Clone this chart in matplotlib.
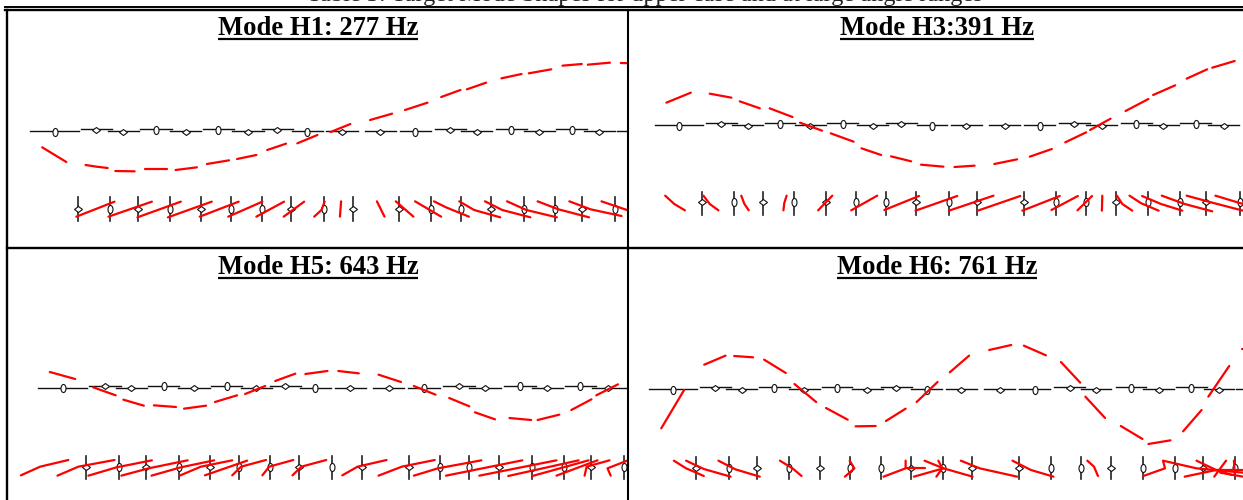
import matplotlib
matplotlib.use('Agg')
import matplotlib.pyplot as plt
from matplotlib.markers import MarkerStyle
from matplotlib.transforms import Affine2D

HEADER = 'Table 3: Target Mode Shapes for upper case and at large angle ranges'
TITLES = ['Mode H1: 277 Hz', 'Mode H3:391 Hz', 'Mode H5: 643 Hz', 'Mode H6: 761 Hz']

TOP_SHAPES = list('oddododdoddoddodod') + ['o']
LOW_SHAPES = list('dododoododdoodoodo')

h1_curve = [[(105, 442), (165, 486)], [(213, 495), (240, 500), (268, 504)], [(287, 513), (335, 514)],
            [(362, 508), (416, 508)], [(437, 510), (490, 502)], [(515, 492), (570, 481)],
            [(590, 477), (638, 465)], [(665, 450), (712, 431)], [(740, 430), (790, 405)],
            [(823, 396), (872, 372)], [(921, 360), (976, 341)], [(1008, 330), (1064, 308)],
            [(1098, 291), (1146, 270)], [(1162, 268), (1210, 248)], [(1248, 235), (1298, 222)],
            [(1316, 220), (1372, 208)], [(1400, 197), (1448, 192)], [(1463, 194), (1518, 188)],
            [(1545, 189), (1575, 190)]]
h1_top_x = [136, 240, 307, 388, 462, 543, 617, 690, 765, 851, 947, 1034, 1121, 1186, 1273, 1342, 1423, 1492, 1575]
h1_top_y = [396, 389, 396, 389, 396, 389, 396, 389, 396, 396, 396, 396, 389, 396, 389, 396, 389, 396, 396]
h1_low_x = [194, 275, 343, 424, 501, 576, 651, 725, 807, 879, 993, 1073, 1148, 1222, 1303, 1381, 1449, 1531]
h1_low_y = (590, 626, 662)
h1_rods = [[(190, 650), (285, 605)], [(270, 650), (378, 605)], [(342, 652), (450, 605)], [(418, 652), (527, 605)],
           [(497, 650), (594, 605)], [(568, 650), (653, 605)], [(638, 650), (707, 605)], [(706, 650), (757, 605)],
           [(782, 650), (800, 630), (808, 605)], [(846, 650), (849, 604)], [(957, 650), (938, 604)],
           [(1029, 650), (985, 604)], [(1098, 650), (1033, 604)], [(1167, 650), (1110, 622), (1080, 604)],
           [(1245, 652), (1180, 630), (1143, 604)], [(1320, 652), (1250, 630), (1207, 604)],
           [(1386, 652), (1310, 630), (1262, 604)], [(1466, 652), (1390, 628), (1338, 604)],
           [(1547, 648), (1470, 628), (1417, 604)], [(1575, 636), (1497, 604)]]

h3_curve = [[(105, 308), (167, 278)], [(215, 281), (270, 293)], [(291, 304), (342, 325)], [(367, 325), (425, 351)],
            [(444, 368), (500, 392)], [(522, 400), (580, 425)], [(600, 445), (650, 465)], [(675, 469), (726, 484)],
            [(751, 494), (808, 500)], [(836, 501), (887, 497)], [(937, 492), (995, 478)], [(1027, 470), (1083, 447)],
            [(1117, 427), (1170, 397)], [(1180, 390), (1232, 356)], [(1270, 333), (1328, 297)],
            [(1340, 285), (1396, 256)], [(1425, 236), (1477, 208)], [(1490, 203), (1547, 183)]]
h3_top_x = [137, 244, 311, 393, 470, 552, 628, 701, 779, 866, 963, 1052, 1140, 1209, 1297, 1366, 1448, 1519]
h3_top_y = [378, 372, 378, 372, 378, 372, 378, 372, 378, 378, 378, 378, 372, 378, 372, 378, 372, 378]
h3_low_x = [196, 277, 349, 430, 511, 586, 662, 738, 821, 894, 1013, 1093, 1170, 1245, 1328, 1407, 1475, 1560]
h3_low_y = (575, 607, 645)
h3_rods = [[(102, 587), (125, 612), (152, 631)], [(199, 587), (215, 612), (237, 631)],
           [(295, 587), (303, 612), (314, 631)], [(410, 587), (404, 610), (402, 631)], [(526, 587), (490, 631)],
           [(640, 587), (574, 631)], [(746, 588), (658, 630)], [(843, 588), (737, 632)], [(935, 587), (822, 632)],
           [(1003, 588), (895, 632)], [(1103, 588), (1008, 632)], [(1149, 588), (1082, 630)],
           [(1185, 588), (1148, 631)], [(1211, 587), (1210, 632)], [(1248, 587), (1262, 612), (1287, 632)],
           [(1280, 587), (1310, 610), (1354, 632)], [(1312, 588), (1360, 612), (1414, 632)],
           [(1362, 587), (1420, 612), (1490, 634)], [(1425, 587), (1490, 608), (1568, 632)],
           [(1498, 587), (1568, 612)]]

h5_curve = [[(124, 366), (187, 387)], [(232, 412), (288, 436)], [(307, 449), (358, 467)], [(383, 466), (438, 471)],
            [(458, 476), (513, 467)], [(535, 456), (590, 436)], [(610, 432), (660, 408)], [(685, 393), (735, 371)],
            [(760, 372), (815, 363)], [(842, 363), (893, 370)], [(942, 374), (998, 396)], [(1030, 408), (1084, 434)],
            [(1118, 444), (1168, 469)], [(1182, 487), (1232, 508)], [(1268, 504), (1322, 510)],
            [(1338, 510), (1392, 494)], [(1422, 480), (1472, 448)], [(1484, 436), (1538, 403)]]
h5_top_x = [156, 261, 327, 407, 483, 564, 638, 710, 785, 872, 967, 1055, 1142, 1207, 1294, 1362, 1444, 1513, 1595]
h5_top_y = [415, 409, 415, 409, 415, 409, 415, 409, 415, 415, 415, 415, 409, 415, 409, 415, 409, 415, 415]
h5_low_x = [215, 295, 363, 445, 522, 595, 673, 745, 827, 900, 1017, 1094, 1168, 1243, 1325, 1403, 1472, 1552]
h5_low_y = (617, 651, 688)
h5_rods = [[(52, 676), (100, 650), (170, 630)], [(143, 677), (195, 650), (285, 630)],
           [(220, 677), (290, 652), (378, 631)], [(302, 677), (370, 655), (467, 631)],
           [(377, 677), (450, 652), (533, 631)], [(447, 677), (500, 650), (578, 631)], [(510, 676), (615, 632)],
           [(578, 676), (600, 650), (662, 630)], [(653, 676), (670, 650), (730, 630)],
           [(728, 676), (750, 650), (812, 630)], [(852, 676), (890, 650), (962, 630)],
           [(942, 677), (1000, 650), (1082, 630)], [(1030, 677), (1090, 655), (1198, 631)],
           [(1110, 677), (1300, 631)], [(1193, 677), (1385, 631)], [(1265, 678), (1440, 631)],
           [(1325, 678), (1465, 631)], [(1385, 677), (1487, 631)], [(1455, 677), (1460, 650), (1517, 631)],
           [(1520, 677), (1512, 655), (1563, 631)]]

h6_curve = [[(92, 535), (150, 420)], [(201, 344), (255, 317)], [(277, 318), (325, 322)], [(353, 329), (408, 369)],
            [(430, 402), (485, 456)], [(510, 474), (565, 509)], [(585, 529), (636, 528)], [(662, 513), (712, 476)],
            [(740, 456), (793, 396)], [(824, 367), (873, 317)], [(924, 300), (980, 285)], [(1012, 287), (1068, 316)],
            [(1106, 336), (1155, 398)], [(1168, 440), (1218, 504)], [(1258, 528), (1313, 567)],
            [(1328, 582), (1384, 571)], [(1416, 544), (1463, 480)], [(1480, 440), (1533, 348)],
            [(1565, 296), (1568, 296)]]
h6_top_x = [122, 229, 296, 379, 455, 538, 615, 688, 765, 853, 951, 1039, 1128, 1195, 1284, 1354, 1437, 1507, 1590]
h6_top_y = [420, 414, 420, 414, 420, 414, 420, 414, 420, 420, 420, 420, 414, 420, 414, 420, 414, 420, 420]
h6_low_x = [181, 264, 334, 416, 496, 572, 649, 726, 808, 881, 1000, 1080, 1156, 1233, 1315, 1395, 1466, 1547]
h6_low_y = (620, 654, 688)
h6_rods = [[(124, 632), (155, 655), (200, 678)], [(155, 632), (200, 657), (268, 680)],
           [(237, 632), (280, 658), (342, 680)], [(393, 632), (425, 655), (448, 678)],
           [(570, 632), (582, 655), (558, 680)], [(656, 680), (712, 655), (712, 632)],
           [(712, 655), (760, 655)], [(733, 680), (808, 655), (760, 632)], [(790, 680), (805, 655), (795, 632)],
           [(808, 655), (882, 680)], [(852, 632), (900, 655), (995, 680)], [(983, 632), (1030, 660), (1087, 680)],
           [(1173, 632), (1190, 650), (1200, 678)], [(1315, 678), (1370, 655), (1365, 632), (1450, 655), (1568, 668)],
           [(1420, 680), (1500, 660), (1568, 660)], [(1450, 632), (1500, 660), (1540, 675)],
           [(1495, 680), (1525, 632)], [(1545, 632), (1547, 670)], [(1510, 668), (1568, 680)]]

# image rectangle of each panel (left, top, right) and the width it has in axes units
PANELS = [(0, 0, 628, 1563, h1_curve, h1_top_x, h1_top_y, h1_low_x, h1_low_y, h1_rods),
          (625, 0, 1243, 1568, h3_curve, h3_top_x, h3_top_y, h3_low_x, h3_low_y, h3_rods),
          (0, 250, 628, 1563, h5_curve, h5_top_x, h5_top_y, h5_low_x, h5_low_y, h5_rods),
          (625, 250, 1243, 1568, h6_curve, h6_top_x, h6_top_y, h6_low_x, h6_low_y, h6_rods)]
TITLE_X = [318, 937, 318, 937]
W, H = 1243, 500


def node(ax, x, y, shape):
    if shape == 'o':
        m = MarkerStyle('o', transform=Affine2D().scale(0.62, 1))
        size = 5.8
    else:
        m = MarkerStyle('D', transform=Affine2D().scale(1.1, 0.85))
        size = 4.1
    ax.plot([x], [y], marker=m, ms=size, mfc='white', mec='#111111', mew=0.8, zorder=3)


def draw_panel(left, top, right, x_span, curve, top_x, top_y, low_x, low_y, rods):
    ax = fig.add_axes([left / W, 1 - (top + 250) / H, (right - left) / W, 250 / H])
    ax.set_xlim(0, x_span)
    ax.set_ylim(750, 0)
    ax.axis('off')
    ax.patch.set_alpha(0)
    for i, (x, y, s) in enumerate(zip(top_x, top_y, TOP_SHAPES)):
        half = 61 if i == 0 else 39
        ax.plot([x - half, x + half], [y - 2, y - 2], color='#111111', lw=1.0, zorder=2)
        node(ax, x, y, s)
    for x, s in zip(low_x, LOW_SHAPES):
        ax.plot([x, x], [low_y[0], low_y[2]], color='#222222', lw=1.2, zorder=2)
        node(ax, x, low_y[1], s)
    for part in curve + rods:
        ax.plot([p[0] for p in part], [p[1] for p in part], color='#ff0000', lw=1.6,
                solid_capstyle='round', zorder=4)


fig = plt.figure(figsize=(W / 100, H / 100), dpi=100, facecolor='white')
for panel in PANELS:
    draw_panel(*panel)

# frame, titles and clipped caption on one axes in image pixels
page = fig.add_axes([0, 0, 1, 1], zorder=5)
page.set_xlim(0, W)
page.set_ylim(H, 0)
page.axis('off')
page.patch.set_alpha(0)
page.plot([5, W], [6.7, 6.7], color='black', lw=1.4)
page.plot([5, W], [10.2, 10.2], color='black', lw=1.7)
page.plot([7, W], [248.3, 248.3], color='black', lw=1.7)
page.plot([7, 7], [10, H], color='black', lw=1.7)
page.plot([628, 628], [10, H], color='black', lw=1.5)
page.text(645, 0.8, HEADER, family='Liberation Serif', fontsize=17.5, ha='center', va='baseline', color='#222222')
fig.canvas.draw()
for t, x, y in zip(TITLES, TITLE_X, [35, 35, 274, 274]):
    txt = page.text(x, y, t, family='Liberation Serif', fontweight='bold', fontsize=19.2, ha='center', va='baseline')
    box = txt.get_window_extent(fig.canvas.get_renderer())
    page.plot([box.x0, box.x1], [y + 4.3, y + 4.3], color='black', lw=1.6, solid_capstyle='butt')

fig.savefig('out.png', dpi=100)
